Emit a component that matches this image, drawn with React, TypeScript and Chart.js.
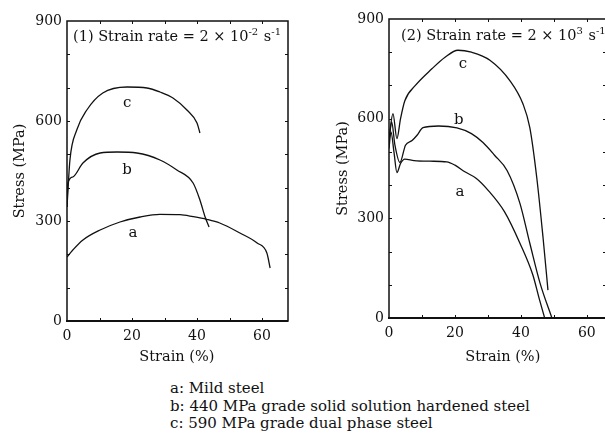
import React, { useEffect, useRef } from "react";
import { Chart, registerables } from "chart.js";

Chart.register(...registerables);

const SERIF = "'DejaVu Serif', 'Liberation Serif', serif";
const INK = "#111";

// ---------- Data: (1) strain rate 2 x 10^-2 s^-1 ----------
const leftAStrain = [0, 1.8, 4.9, 10.2, 16.3, 22.5, 28.6, 34.8, 38.8, 43, 47, 53.2, 58.5, 61.5, 62.5];
const leftAStress = [192, 213, 243, 273, 297, 312, 320, 319, 313, 305, 294, 264, 234, 204, 159];

const leftBStrain = [0, 0.3, 1.8, 4.9, 10.2, 15.4, 21.5, 28.6, 33.8, 38.8, 40.9, 42.5, 43.7];
const leftBStress = [342, 414, 432, 474, 504, 507, 504, 483, 453, 414, 363, 312, 282];

const leftCStrain = [0, 0.9, 3, 6.1, 11, 18.5, 24.6, 28.6, 32.6, 36.9, 40, 40.9];
const leftCStress = [342, 483, 573, 633, 684, 702, 699, 687, 669, 633, 594, 564];

// ---------- Data: (2) strain rate 2 x 10^3 s^-1 ----------
const rightAStrain = [0, 0.6, 1.5, 2.4, 3.5, 4.8, 7.6, 12.4, 17.5, 20, 23, 26.5, 30, 35, 39.7, 43.6, 45.5, 47.2];
const rightAStress = [510, 560, 500, 438, 465, 478, 474, 472, 470, 460, 440, 420, 385, 320, 225, 130, 60, 0];

const rightBStrain = [0, 0.8, 1.8, 3.3, 5, 7, 8.5, 10.3, 15, 20.6, 25, 28.5, 32, 35.8, 39.7, 42.7, 45.8, 49.4];
const rightBStress = [530, 590, 520, 468, 520, 534, 550, 573, 578, 572, 555, 528, 490, 444, 345, 225, 105, 0];

const rightCStrain = [0, 1.2, 2.4, 3.5, 4.8, 8, 13, 17, 20.9, 25, 30.6, 36.7, 40.6, 42.7, 44.8, 46.7, 48.2];
const rightCStress = [540, 615, 540, 600, 654, 700, 750, 785, 806, 800, 776, 714, 645, 573, 423, 243, 84];

// curve letter positions [letter, strain, stress]
const leftLabels: [string, number, number][] = [["c", 18.5, 654], ["b", 18.5, 453], ["a", 20.3, 264]];
const rightLabels: [string, number, number][] = [["c", 22.4, 765], ["b", 21.2, 597], ["a", 21.5, 378]];

const legendLines = [
  "a: Mild steel",
  "b: 440 MPa grade solid solution hardened steel",
  "c: 590 MPa grade dual phase steel",
];

type Seg = { t: string; sup?: boolean };
const leftTitle: Seg[] = [{ t: "(1) Strain rate = 2 × 10" }, { t: "-2", sup: true }, { t: " s" }, { t: "-1", sup: true }];
const rightTitle: Seg[] = [{ t: "(2) Strain rate = 2 × 10" }, { t: "3", sup: true }, { t: " s" }, { t: "-1", sup: true }];

type PanelProps = {
  left: number;
  width: number;
  curves: { strain: number[]; stress: number[] }[];
  labels: [string, number, number][];
  title: Seg[];
  titleX: number;
  titleY: number;
  xMax: number;
  yAxisWidth: number;
  padTop: number;
  padRight: number;
  xAxisHeight: number;
  yTitlePad: number;
  xTitleAt: number;
};

function Panel(p: PanelProps) {
  const ref = useRef<HTMLCanvasElement>(null);
  useEffect(() => {
    const decor = {
      id: "decor",
      afterDraw(chart: any) {
        const { ctx, chartArea: a, scales } = chart;
        const x = scales.x;
        const y = scales.y;
        ctx.save();
        ctx.strokeStyle = INK;
        ctx.lineWidth = 1.5;
        ctx.strokeRect(a.left, a.top, a.right - a.left, a.bottom - a.top);
        ctx.lineWidth = 2;
        ctx.beginPath();
        ctx.moveTo(a.left - 1, a.bottom);
        ctx.lineTo(a.right, a.bottom);
        ctx.stroke();
        ctx.lineWidth = 1;
        ctx.beginPath();
        for (let v = 100; v < 900; v += 100) {
          const py = Math.round(y.getPixelForValue(v)) + 0.5;
          ctx.moveTo(a.left, py);
          ctx.lineTo(a.left + 3, py);
          ctx.moveTo(a.right, py);
          ctx.lineTo(a.right - 3, py);
        }
        for (let v = 10; v < x.max; v += 10) {
          const px = Math.round(x.getPixelForValue(v)) + 0.5;
          ctx.moveTo(px, a.bottom);
          ctx.lineTo(px, a.bottom - 3);
          ctx.moveTo(px, a.top);
          ctx.lineTo(px, a.top + 3);
        }
        ctx.stroke();

        // curve letters
        ctx.fillStyle = INK;
        ctx.font = `15px ${SERIF}`;
        ctx.textAlign = "center";
        ctx.textBaseline = "middle";
        for (const [t, s, st] of p.labels) {
          ctx.fillText(t, x.getPixelForValue(s), y.getPixelForValue(st));
        }

        // x axis title
        ctx.font = `14.5px ${SERIF}`;
        ctx.fillText("Strain (%)", x.getPixelForValue(p.xTitleAt), 357);

        // panel title with superscripts
        ctx.textAlign = "left";
        ctx.textBaseline = "alphabetic";
        let cx = p.titleX;
        for (const seg of p.title) {
          ctx.font = seg.sup ? `10px ${SERIF}` : `14.5px ${SERIF}`;
          ctx.fillText(seg.t, cx, seg.sup ? p.titleY - 6 : p.titleY);
          cx += ctx.measureText(seg.t).width + (seg.sup ? 1 : 0);
        }
        ctx.restore();
      },
    };

    const chart = new Chart(ref.current!, {
      type: "line",
      data: {
        datasets: p.curves.map((c) => ({
          data: c.strain.map((s, i) => ({ x: s, y: c.stress[i] })),
          borderColor: INK,
          borderWidth: 1.3,
          pointRadius: 0,
          fill: false,
          cubicInterpolationMode: "monotone" as const,
        })),
      },
      options: {
        animation: false,
        responsive: false,
        devicePixelRatio: 1,
        layout: { padding: { left: 0, right: p.padRight, top: p.padTop, bottom: 0 } },
        plugins: { legend: { display: false }, tooltip: { enabled: false }, title: { display: false } },
        scales: {
          x: {
            type: "linear",
            min: 0,
            max: p.xMax,
            afterFit: (s: any) => {
              s.height = p.xAxisHeight;
            },
            grid: { display: false, drawTicks: false },
            border: { display: false },
            ticks: {
              stepSize: 20,
              includeBounds: false,
              autoSkip: false,
              maxRotation: 0,
              color: INK,
              font: { family: SERIF, size: 14 },
              padding: 7,
            },
          },
          y: {
            type: "linear",
            min: 0,
            max: 900,
            afterFit: (s: any) => {
              s.width = p.yAxisWidth;
            },
            grid: { display: false, drawTicks: false },
            border: { display: false },
            ticks: { stepSize: 300, color: INK, font: { family: SERIF, size: 14 }, padding: 5 },
            title: {
              display: true,
              text: "Stress (MPa)",
              color: INK,
              font: { family: SERIF, size: 14.5 },
              padding: { top: p.yTitlePad, bottom: 0 },
            },
          },
        },
      } as any,
      plugins: [decor],
    });
    return () => chart.destroy();
  }, []);
  return (
    <canvas
      ref={ref}
      width={p.width}
      height={370}
      style={{ position: "absolute", left: p.left, top: 0, width: p.width, height: 370 }}
    />
  );
}

export default function App() {
  return (
    <div
      style={{
        position: "absolute",
        left: 0,
        top: 0,
        width: 605,
        height: 442,
        overflow: "hidden",
        background: "#fff",
      }}
    >
      <Panel
        left={0}
        width={300}
        curves={[
          { strain: leftAStrain, stress: leftAStress },
          { strain: leftBStrain, stress: leftBStress },
          { strain: leftCStrain, stress: leftCStress },
        ]}
        labels={leftLabels}
        title={leftTitle}
        titleX={73}
        titleY={41}
        xMax={68}
        yAxisWidth={67}
        padTop={21}
        padRight={12}
        xAxisHeight={49}
        yTitlePad={12}
        xTitleAt={33.8}
      />
      <Panel
        left={300}
        width={306}
        curves={[
          { strain: rightAStrain, stress: rightAStress },
          { strain: rightBStrain, stress: rightBStress },
          { strain: rightCStrain, stress: rightCStress },
        ]}
        labels={rightLabels}
        title={rightTitle}
        titleX={101}
        titleY={40}
        xMax={65.8}
        yAxisWidth={89}
        padTop={19}
        padRight={0}
        xAxisHeight={52}
        yTitlePad={35}
        xTitleAt={34.5}
      />
      <div
        style={{
          position: "absolute",
          left: 170,
          top: 380,
          fontFamily: SERIF,
          fontSize: 15,
          lineHeight: "17.6px",
          color: INK,
          whiteSpace: "nowrap",
        }}
      >
        {legendLines.map((l) => (
          <div key={l}>{l}</div>
        ))}
      </div>
    </div>
  );
}
